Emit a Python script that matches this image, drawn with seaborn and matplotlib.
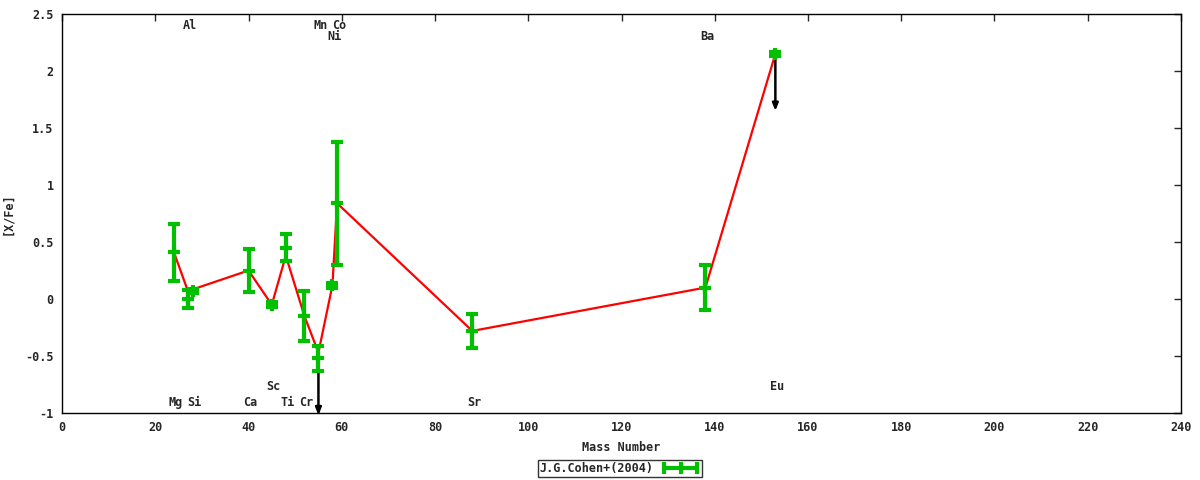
import numpy as np
import pandas as pd
import matplotlib
matplotlib.use("Agg")
import matplotlib.pyplot as plt
import matplotlib.transforms as mtransforms
from matplotlib.lines import Line2D
import seaborn as sns

# abundance measurements (J.G.Cohen+2004)
elements = ["Mg", "Al", "Si", "Ca", "Sc", "Ti", "Cr", "Mn", "Ni", "Co", "Sr", "Ba", "Eu"]
mass = [24, 27, 28, 40, 45, 48, 52, 55, 58, 59, 88, 138, 153]
x_fe = [0.41, 0.00, 0.07, 0.25, -0.05, 0.45, -0.15, -0.52, 0.12, 0.84, -0.28, 0.10, 2.15]
x_err = [0.25, 0.08, 0.02, 0.19, 0.02, 0.12, 0.22, 0.11, 0.02, 0.54, 0.15, 0.20, 0.02]

# connecting line (one value per mass number)
line_mass = [24, 27, 40, 45, 48, 52, 55, 58, 59, 88, 138, 153]
line_value = [0.41, 0.07, 0.25, -0.05, 0.38, -0.15, -0.47, 0.12, 0.84, -0.28, 0.10, 2.15]

# upper limits
limit_mass = [55, 153]
limit_value = [-0.52, 2.15]

# element labels: row near top or bottom of the panel
label_y = [-0.91, 2.40, -0.91, -0.91, -0.77, -0.91, -0.91, 2.40, 2.30, 2.40, -0.91, 2.30, -0.77]

GREEN = "#00c000"

sns.set_style("white")
plt.rcParams["font.family"] = ["DejaVu Sans Mono"]
plt.rcParams["font.weight"] = "bold"
plt.rcParams["font.size"] = 8.5

df = pd.DataFrame({"mass": mass, "xfe": x_fe, "err": x_err, "el": elements})
line_df = pd.DataFrame({"mass": line_mass, "xfe": line_value})

fig = plt.figure(figsize=(12, 4.8), dpi=100)
ax = fig.add_axes([62 / 1200, 67 / 480, 1119 / 1200, 399 / 480])

sns.lineplot(data=line_df, x="mass", y="xfe", sort=False, color="red", lw=1.6, ax=ax, zorder=2)

ax.errorbar(df["mass"], df["xfe"], yerr=df["err"], fmt="none", ecolor=GREEN,
            elinewidth=3, capsize=4, capthick=3, zorder=3)
sns.scatterplot(data=df, x="mass", y="xfe", marker="+", s=70, color=GREEN,
                linewidth=3, ax=ax, zorder=4)

for m, v in zip(limit_mass, limit_value):
    ax.annotate("", xy=(m, v - 0.5), xytext=(m, v),
                arrowprops=dict(arrowstyle="-|>,head_width=0.2,head_length=0.5",
                                color="black", lw=1.8, shrinkA=0, shrinkB=0),
                zorder=1, annotation_clip=False)

shift = mtransforms.offset_copy(ax.transData, fig=fig, x=2, y=0, units="dots")
for el, m, yy in zip(elements, mass, label_y):
    ax.text(m, yy, el, ha="center", va="center", transform=shift, fontsize=8.5, fontweight="bold")

ax.set_xlim(0, 240)
ax.set_ylim(-1, 2.5)
ax.set_xticks(np.arange(0, 241, 20))
ax.set_yticks(np.arange(-1, 2.51, 0.5))
ax.set_yticklabels(["-1", "-0.5", "0", "0.5", "1", "1.5", "2", "2.5"])
ax.tick_params(direction="in", length=5, width=1, top=True, right=True, labelsize=8.5, pad=6)
for sp in ax.spines.values():
    sp.set_color("black")
    sp.set_linewidth(1)

ax.set_xlabel("Mass Number", fontsize=8.5, fontweight="bold")
ax.set_ylabel("[X/Fe]", fontsize=8.5, fontweight="bold")
ax.xaxis.set_label_coords(0.5, -28 / 399)
ax.yaxis.set_label_coords(-48 / 1119, 0.5)

handle = Line2D([], [], color=GREEN, lw=3, marker="|", markersize=9, mew=3)
leg = fig.legend([handle], ["J.G.Cohen+(2004)"], loc="center", bbox_to_anchor=(620 / 1200, 1 - 468.5 / 480),
                 numpoints=3, markerfirst=False, frameon=True, fancybox=False, handlelength=3.4,
                 borderpad=0.15, handletextpad=0.6, borderaxespad=0, prop={"weight": "bold", "size": 8.5})
leg.get_frame().set_edgecolor("black")
leg.get_frame().set_linewidth(1)

fig.savefig("out.png", dpi=100)
